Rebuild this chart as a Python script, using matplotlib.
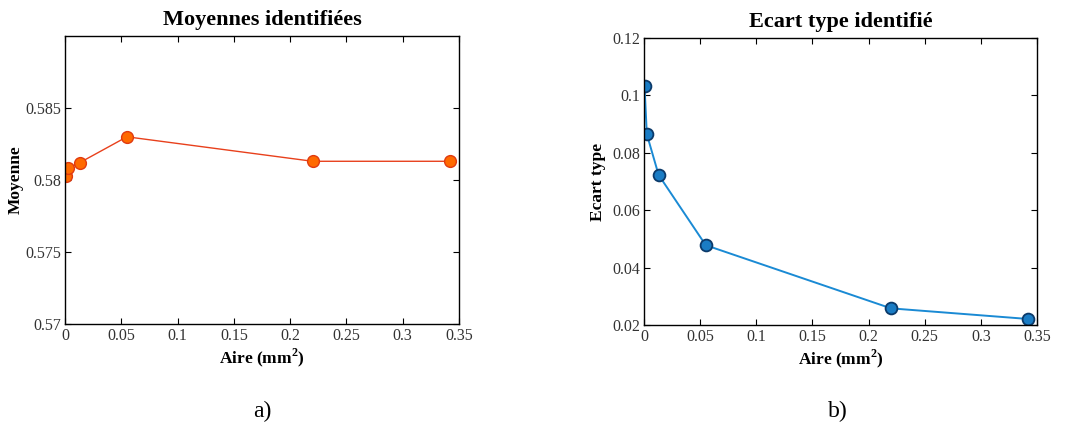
import matplotlib
matplotlib.use('Agg')
import matplotlib.pyplot as plt

# data
aire = [0.0005, 0.0025, 0.013, 0.055, 0.220, 0.342]
moyenne = [0.5803, 0.5808, 0.5812, 0.5830, 0.5813, 0.5813]
ecart = [0.1032, 0.0865, 0.0723, 0.0478, 0.0258, 0.0221]

x_ticks = [0, 0.05, 0.1, 0.15, 0.2, 0.25, 0.3, 0.35]
x_labels = ['0', '0.05', '0.1', '0.15', '0.2', '0.25', '0.3', '0.35']
y1_ticks = [0.57, 0.575, 0.58, 0.585]
y1_labels = ['0.57', '0.575', '0.58', '0.585']
y2_ticks = [0.02, 0.04, 0.06, 0.08, 0.1, 0.12]
y2_labels = ['0.02', '0.04', '0.06', '0.08', '0.1', '0.12']

plt.rcParams['font.family'] = ['Liberation Serif', 'DejaVu Serif']
plt.rcParams['mathtext.fontset'] = 'custom'
plt.rcParams['mathtext.rm'] = 'Liberation Serif'
plt.rcParams['mathtext.bf'] = 'Liberation Serif:bold'

fig = plt.figure(figsize=(10.66, 4.28), dpi=100)
W, H = 1066, 428


def box(l, t, r, b):
    return [l / W, 1 - b / H, (r - l) / W, (b - t) / H]


def style(ax, yticks, ylabels):
    ax.set_xlim(0, 0.35)
    ax.set_xticks(x_ticks)
    ax.set_xticklabels(x_labels)
    ax.set_yticks(yticks)
    ax.set_yticklabels(ylabels)
    ax.tick_params(direction='in', top=True, right=True, length=4, width=0.8,
                   labelsize=11.5, labelcolor='#333333', pad=3)
    for s in ax.spines.values():
        s.set_linewidth(1.0)
    ax.set_xlabel('Aire (mm$^{\\mathbf{2}}$)', fontsize=12.5, fontweight='bold', labelpad=2)


# a) moyennes
ax1 = fig.add_axes(box(65, 36, 459, 324))
ax1.plot(aire, moyenne, '-o', color='#e8401c', lw=1.0, ms=8.5,
         markerfacecolor='#ff6a00', markeredgecolor='#e03a10', markeredgewidth=1.0)
ax1.set_ylim(0.57, 0.59)
style(ax1, y1_ticks, y1_labels)
ax1.set_ylabel('Moyenne', fontsize=12.5, fontweight='bold', labelpad=1)
ax1.set_title('Moyennes identifiées', fontsize=16, fontweight='bold', pad=8)
fig.text(262 / W, 1 - 411 / H, 'a)', fontsize=17, ha='center', va='center')

# b) ecart type
ax2 = fig.add_axes(box(644, 38, 1037, 325))
ax2.plot(aire, ecart, '-o', color='#1a8ad4', lw=1.4, ms=8.5,
         markerfacecolor='#1a7cc4', markeredgecolor='#0b3a6a', markeredgewidth=1.3)
ax2.set_ylim(0.02, 0.12)
style(ax2, y2_ticks, y2_labels)
ax2.set_ylabel('Ecart type', fontsize=12.5, fontweight='bold', labelpad=4)
ax2.set_title('Ecart type identifié', fontsize=16, fontweight='bold', pad=8)
fig.text(838 / W, 1 - 411 / H, 'b)', fontsize=17, ha='center', va='center')

fig.savefig('out.png', dpi=100)
